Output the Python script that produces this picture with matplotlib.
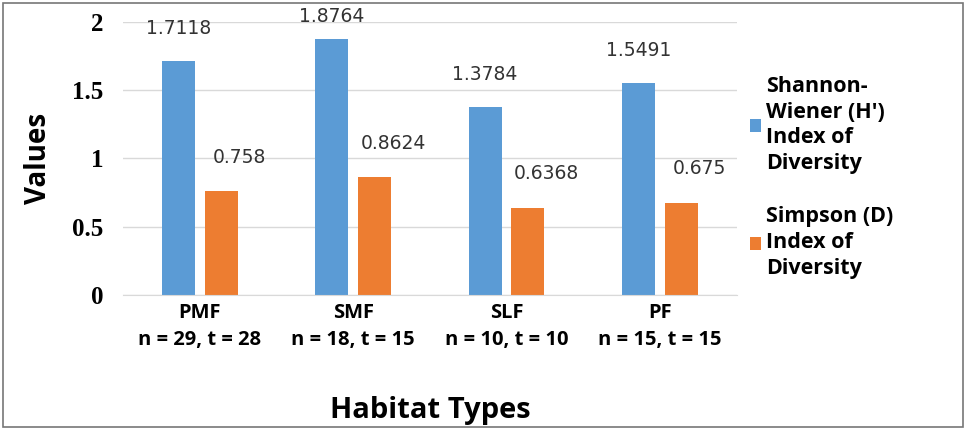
import numpy as np
import matplotlib.pyplot as plt
from matplotlib.patches import Rectangle

habitats = ["PMF\nn = 29, t = 28", "SMF\nn = 18, t = 15", "SLF\nn = 10, t = 10", "PF\nn = 15, t = 15"]
shannon = [1.7118, 1.8764, 1.3784, 1.5491]
simpson = [0.758, 0.8624, 0.6368, 0.675]
shannon_lbl = ["1.7118", "1.8764", "1.3784", "1.5491"]
simpson_lbl = ["0.758", "0.8624", "0.6368", "0.675"]

blue = "#5B9BD5"
orange = "#ED7D31"

fig = plt.figure(figsize=(9.68, 4.30), dpi=100)
ax = fig.add_axes([0.127, 0.314, 0.634, 0.635])

x = np.arange(len(habitats))
w = 0.215
off = 0.14
ax.bar(x - off, shannon, w, color=blue, label="Shannon-\nWiener (H')\nIndex of\nDiversity")
ax.bar(x + off, simpson, w, color=orange, label="Simpson (D)\nIndex of\nDiversity")

# data labels above bars (kept inside the figure like Excel does)
for xi, v, s in zip(x - off, shannon, shannon_lbl):
    ax.text(xi, min(v + 0.24, 2.04), s, ha="center", va="center",
            fontsize=13.5, color="#333333", clip_on=False)
for xi, v, s in zip(x + off, simpson, simpson_lbl):
    ax.text(xi + 0.12, v + 0.25, s, ha="center", va="center",
            fontsize=13.5, color="#333333", clip_on=False)

ax.set_xlim(-0.5, 3.5)
ax.set_ylim(0, 2)
ax.set_yticks([0, 0.5, 1, 1.5, 2])
ax.set_yticklabels(["0", "0.5", "1", "1.5", "2"], family="Liberation Serif",
                   fontweight="bold", fontsize=18)
ax.set_xticks(x)
ax.set_xticklabels(habitats, fontsize=14.5, fontweight="bold", family="Open Sans",
                   linespacing=1.45)
ax.tick_params(axis="y", length=0, pad=14)
ax.tick_params(axis="x", length=0, pad=6)
ax.grid(axis="y", color="#d9d9d9", linewidth=1)
ax.set_axisbelow(True)
for sp in ["top", "right", "left"]:
    ax.spines[sp].set_visible(False)
ax.spines["bottom"].set_color("#d9d9d9")

ax.set_ylabel("Values", fontsize=20, fontweight="bold", family="Open Sans", labelpad=14)
fig.text(0.445, 0.045, "Habitat Types", fontsize=21, fontweight="bold",
         family="Open Sans", ha="center", va="center")

leg = ax.legend(loc="upper left", bbox_to_anchor=(1.0, 0.85), frameon=False,
                prop={"family": "Open Sans", "weight": "bold", "size": 15.5},
                handlelength=0.55, handleheight=0.55, handletextpad=0.2,
                labelspacing=1.5, borderaxespad=0.2)
for t in leg.get_texts():
    t.set_linespacing(1.3)

fig.patches.append(Rectangle((0.003, 0.007), 0.992, 0.986, transform=fig.transFigure,
                             fill=False, edgecolor="#777777", linewidth=1.2))

fig.savefig("out.png", dpi=100)
